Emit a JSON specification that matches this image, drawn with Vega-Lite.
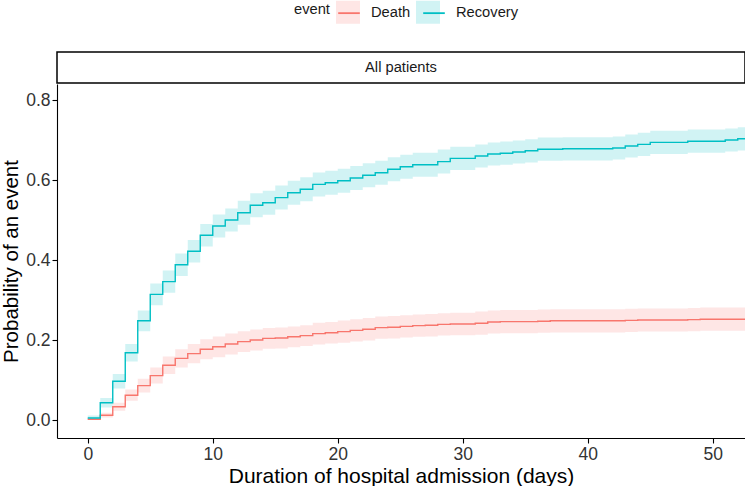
{
  "$schema": "https://vega.github.io/schema/vega-lite/v6.json",
  "padding": {"left": 1, "top": 0, "right": 0, "bottom": 0},
  "background": "white",
  "spacing": 0,
  "config": {
    "font": "Liberation Sans",
    "view": {"stroke": null},
    "axis": {
      "domainColor": "black", "domainWidth": 1.1,
      "tickColor": "black", "tickWidth": 1.1, "tickSize": 5,
      "labelFontSize": 17.5, "labelColor": "#333333", "labelPadding": 2,
      "titleFontSize": 20.5, "titleFontWeight": "normal", "titleColor": "black",
      "grid": false
    },
    "legend": {
      "labelFontSize": 14.7, "titleFontSize": 14.7, "titleFontWeight": "normal",
      "labelColor": "#1A1A1A", "titleColor": "#1A1A1A",
      "padding": 0
    }
  },
  "datasets": {
    "cif": [
      {"event": "Death", "day": 0, "est": 0.002, "lo": 0.000, "hi": 0.005},
      {"event": "Death", "day": 1, "est": 0.012, "lo": 0.006, "hi": 0.018},
      {"event": "Death", "day": 2, "est": 0.033, "lo": 0.023, "hi": 0.043},
      {"event": "Death", "day": 3, "est": 0.062, "lo": 0.048, "hi": 0.076},
      {"event": "Death", "day": 4, "est": 0.086, "lo": 0.069, "hi": 0.103},
      {"event": "Death", "day": 5, "est": 0.111, "lo": 0.091, "hi": 0.131},
      {"event": "Death", "day": 6, "est": 0.137, "lo": 0.115, "hi": 0.159},
      {"event": "Death", "day": 7, "est": 0.154, "lo": 0.131, "hi": 0.177},
      {"event": "Death", "day": 8, "est": 0.166, "lo": 0.142, "hi": 0.190},
      {"event": "Death", "day": 9, "est": 0.177, "lo": 0.152, "hi": 0.202},
      {"event": "Death", "day": 10, "est": 0.183, "lo": 0.157, "hi": 0.209},
      {"event": "Death", "day": 11, "est": 0.190, "lo": 0.164, "hi": 0.216},
      {"event": "Death", "day": 12, "est": 0.196, "lo": 0.170, "hi": 0.222},
      {"event": "Death", "day": 13, "est": 0.200, "lo": 0.174, "hi": 0.226},
      {"event": "Death", "day": 14, "est": 0.204, "lo": 0.178, "hi": 0.230},
      {"event": "Death", "day": 15, "est": 0.205, "lo": 0.179, "hi": 0.231},
      {"event": "Death", "day": 16, "est": 0.208, "lo": 0.182, "hi": 0.234},
      {"event": "Death", "day": 17, "est": 0.211, "lo": 0.185, "hi": 0.237},
      {"event": "Death", "day": 18, "est": 0.216, "lo": 0.189, "hi": 0.243},
      {"event": "Death", "day": 19, "est": 0.218, "lo": 0.191, "hi": 0.245},
      {"event": "Death", "day": 20, "est": 0.221, "lo": 0.193, "hi": 0.249},
      {"event": "Death", "day": 21, "est": 0.224, "lo": 0.196, "hi": 0.252},
      {"event": "Death", "day": 22, "est": 0.227, "lo": 0.199, "hi": 0.255},
      {"event": "Death", "day": 23, "est": 0.231, "lo": 0.203, "hi": 0.259},
      {"event": "Death", "day": 24, "est": 0.232, "lo": 0.204, "hi": 0.260},
      {"event": "Death", "day": 25, "est": 0.234, "lo": 0.206, "hi": 0.262},
      {"event": "Death", "day": 26, "est": 0.236, "lo": 0.208, "hi": 0.264},
      {"event": "Death", "day": 27, "est": 0.237, "lo": 0.209, "hi": 0.265},
      {"event": "Death", "day": 28, "est": 0.239, "lo": 0.211, "hi": 0.267},
      {"event": "Death", "day": 29, "est": 0.240, "lo": 0.212, "hi": 0.268},
      {"event": "Death", "day": 31, "est": 0.242, "lo": 0.213, "hi": 0.271},
      {"event": "Death", "day": 32, "est": 0.245, "lo": 0.216, "hi": 0.274},
      {"event": "Death", "day": 33, "est": 0.246, "lo": 0.217, "hi": 0.275},
      {"event": "Death", "day": 36, "est": 0.247, "lo": 0.218, "hi": 0.276},
      {"event": "Death", "day": 37, "est": 0.248, "lo": 0.219, "hi": 0.277},
      {"event": "Death", "day": 43, "est": 0.249, "lo": 0.220, "hi": 0.278},
      {"event": "Death", "day": 44, "est": 0.250, "lo": 0.221, "hi": 0.279},
      {"event": "Death", "day": 48, "est": 0.251, "lo": 0.222, "hi": 0.280},
      {"event": "Death", "day": 49, "est": 0.252, "lo": 0.223, "hi": 0.281},
      {"event": "Death", "day": 53, "est": 0.252, "lo": 0.223, "hi": 0.281},
      {"event": "Recovery", "day": 0, "est": 0.005, "lo": 0.000, "hi": 0.011},
      {"event": "Recovery", "day": 1, "est": 0.043, "lo": 0.031, "hi": 0.055},
      {"event": "Recovery", "day": 2, "est": 0.097, "lo": 0.079, "hi": 0.115},
      {"event": "Recovery", "day": 3, "est": 0.168, "lo": 0.146, "hi": 0.190},
      {"event": "Recovery", "day": 4, "est": 0.248, "lo": 0.222, "hi": 0.274},
      {"event": "Recovery", "day": 5, "est": 0.314, "lo": 0.287, "hi": 0.341},
      {"event": "Recovery", "day": 6, "est": 0.346, "lo": 0.318, "hi": 0.374},
      {"event": "Recovery", "day": 7, "est": 0.388, "lo": 0.360, "hi": 0.416},
      {"event": "Recovery", "day": 8, "est": 0.422, "lo": 0.394, "hi": 0.450},
      {"event": "Recovery", "day": 9, "est": 0.462, "lo": 0.434, "hi": 0.490},
      {"event": "Recovery", "day": 10, "est": 0.485, "lo": 0.456, "hi": 0.514},
      {"event": "Recovery", "day": 11, "est": 0.500, "lo": 0.471, "hi": 0.529},
      {"event": "Recovery", "day": 12, "est": 0.518, "lo": 0.488, "hi": 0.548},
      {"event": "Recovery", "day": 13, "est": 0.537, "lo": 0.507, "hi": 0.567},
      {"event": "Recovery", "day": 14, "est": 0.543, "lo": 0.513, "hi": 0.573},
      {"event": "Recovery", "day": 15, "est": 0.556, "lo": 0.526, "hi": 0.586},
      {"event": "Recovery", "day": 16, "est": 0.568, "lo": 0.538, "hi": 0.598},
      {"event": "Recovery", "day": 17, "est": 0.577, "lo": 0.547, "hi": 0.607},
      {"event": "Recovery", "day": 18, "est": 0.589, "lo": 0.559, "hi": 0.619},
      {"event": "Recovery", "day": 19, "est": 0.593, "lo": 0.563, "hi": 0.623},
      {"event": "Recovery", "day": 20, "est": 0.598, "lo": 0.568, "hi": 0.628},
      {"event": "Recovery", "day": 21, "est": 0.605, "lo": 0.575, "hi": 0.635},
      {"event": "Recovery", "day": 22, "est": 0.612, "lo": 0.582, "hi": 0.642},
      {"event": "Recovery", "day": 23, "est": 0.618, "lo": 0.588, "hi": 0.648},
      {"event": "Recovery", "day": 24, "est": 0.627, "lo": 0.597, "hi": 0.657},
      {"event": "Recovery", "day": 25, "est": 0.633, "lo": 0.603, "hi": 0.663},
      {"event": "Recovery", "day": 26, "est": 0.638, "lo": 0.608, "hi": 0.668},
      {"event": "Recovery", "day": 28, "est": 0.646, "lo": 0.616, "hi": 0.676},
      {"event": "Recovery", "day": 29, "est": 0.654, "lo": 0.625, "hi": 0.683},
      {"event": "Recovery", "day": 31, "est": 0.660, "lo": 0.631, "hi": 0.689},
      {"event": "Recovery", "day": 32, "est": 0.665, "lo": 0.636, "hi": 0.694},
      {"event": "Recovery", "day": 33, "est": 0.667, "lo": 0.638, "hi": 0.696},
      {"event": "Recovery", "day": 34, "est": 0.670, "lo": 0.641, "hi": 0.699},
      {"event": "Recovery", "day": 35, "est": 0.673, "lo": 0.644, "hi": 0.702},
      {"event": "Recovery", "day": 36, "est": 0.677, "lo": 0.648, "hi": 0.706},
      {"event": "Recovery", "day": 38, "est": 0.678, "lo": 0.649, "hi": 0.707},
      {"event": "Recovery", "day": 42, "est": 0.680, "lo": 0.651, "hi": 0.709},
      {"event": "Recovery", "day": 43, "est": 0.685, "lo": 0.656, "hi": 0.714},
      {"event": "Recovery", "day": 44, "est": 0.689, "lo": 0.660, "hi": 0.718},
      {"event": "Recovery", "day": 45, "est": 0.694, "lo": 0.665, "hi": 0.723},
      {"event": "Recovery", "day": 48, "est": 0.697, "lo": 0.668, "hi": 0.726},
      {"event": "Recovery", "day": 51, "est": 0.700, "lo": 0.671, "hi": 0.729},
      {"event": "Recovery", "day": 52, "est": 0.703, "lo": 0.674, "hi": 0.732},
      {"event": "Recovery", "day": 53, "est": 0.703, "lo": 0.674, "hi": 0.732}
    ]
  },
  "vconcat": [
    {
      "width": 688,
      "height": 31,
      "view": {"stroke": "black", "strokeWidth": 1.5, "fill": "white"},
      "data": {"values": [{"panel": "All patients"}]},
      "mark": {"type": "text", "fontSize": 14.7, "color": "#1A1A1A"},
      "encoding": {"text": {"field": "panel", "type": "nominal"}}
    },
    {
      "width": 688,
      "height": 354,
      "data": {"name": "cif"},
      "layer": [
        {
          "mark": {"type": "area", "interpolate": "step-after", "opacity": 0.18, "clip": true},
          "encoding": {
            "x": {
              "field": "day", "type": "quantitative",
              "scale": {"domain": [-2.46, 52.58], "nice": false, "zero": false},
              "axis": {"values": [0, 10, 20, 30, 40, 50], "title": "Duration of hospital admission (days)", "titleFontSize": 21, "titlePadding": 3, "labelFlush": false}
            },
            "y": {
              "field": "lo", "type": "quantitative",
              "scale": {"domain": [-0.045, 0.84], "nice": false, "zero": false},
              "axis": {"values": [0, 0.2, 0.4, 0.6, 0.8], "format": ".1f", "title": "Probability of an event", "titlePadding": 4}
            },
            "y2": {"field": "hi"},
            "fill": {
              "field": "event", "type": "nominal",
              "scale": {"range": ["#F8766D", "#00BFC4"]},
              "legend": {
                "orient": "none", "legendX": 279, "legendY": -52, "direction": "horizontal",
                "title": null, "labelExpr": "''",
                "symbolType": "M-1,-0.958H1V0.958H-1Z", "symbolSize": 576, "symbolOpacity": 0.18,
                "symbolStrokeWidth": 0, "symbolStrokeColor": "transparent",
                "labelOffset": 0, "columnPadding": 56
              }
            }
          }
        },
        {
          "mark": {"type": "line", "interpolate": "step-after", "strokeWidth": 1.4, "clip": true},
          "encoding": {
            "x": {"field": "day", "type": "quantitative"},
            "y": {"field": "est", "type": "quantitative", "title": "Probability of an event"},
            "stroke": {
              "field": "event", "type": "nominal",
              "scale": {"domain": ["Death", "Recovery"], "range": ["#F8766D", "#00BFC4"]},
              "legend": {
                "orient": "none", "legendX": 237, "legendY": -52, "direction": "horizontal",
                "title": "event", "titleOrient": "left", "titlePadding": 6,
                "titleAnchor": "middle", "titleBaseline": "middle",
                "symbolType": "M-0.9,0H0.9", "symbolSize": 576, "symbolStrokeWidth": 1.8,
                "symbolFillColor": "transparent",
                "labelOffset": 9, "columnPadding": 8
              }
            }
          }
        }
      ]
    }
  ]
}
